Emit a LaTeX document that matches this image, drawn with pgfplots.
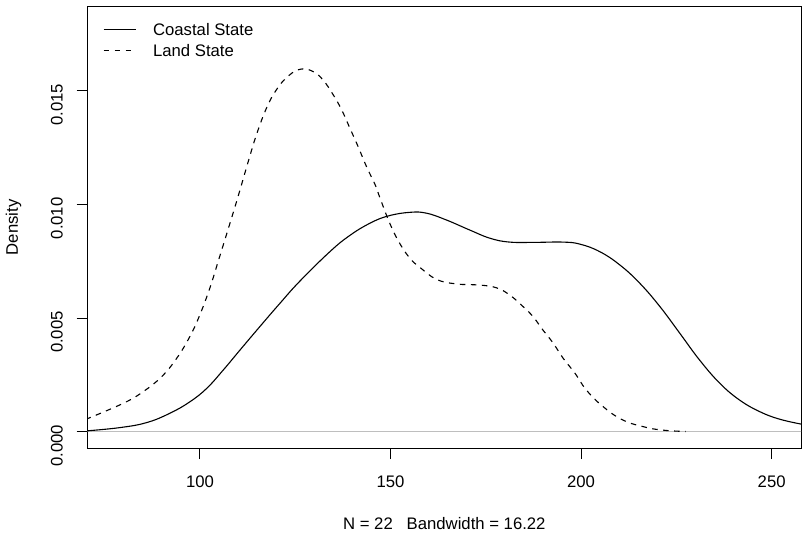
\documentclass[border=0pt]{standalone}
\usepackage{fontspec}
\setmainfont{Liberation Sans}
\usepackage{pgfplots}
\pgfplotsset{compat=1.18}
\definecolor{rgray}{RGB}{190,190,190}
\begin{document}
\fontsize{16.7bp}{20bp}\selectfont
\begin{tikzpicture}
\begin{axis}[
  scale only axis,
  width=713.3bp, height=441.3bp,
  xmin=70.55, xmax=257.7,
  ymin=-0.000717, ymax=0.018695,
  axis line style={line width=1bp},
  xtick={100,150,200,250},
  ytick={0,0.005,0.01,0.015},
  yticklabels={0.000,0.005,0.010,0.015},
  xticklabels={100,150,200,250},
  scaled y ticks=false,
  xtick pos=bottom, ytick pos=left,
  tick align=outside,
  major tick length=11bp,
  tick style={line width=1bp, black},
  xticklabel style={anchor=north, inner sep=0pt, text height=12bp, text depth=0bp, yshift=-16bp},
  yticklabel style={rotate=90, anchor=south, inner sep=0pt, text height=12bp, text depth=0bp, xshift=-14bp, yshift=14bp},
  every axis x label/.style={at={(axis description cs:0.5,0)}, yshift=-75.3bp, anchor=center},
  every axis y label/.style={at={(axis description cs:0,0.5)}, xshift=-74.2bp, rotate=90, anchor=center},
  xlabel={N = 22\hspace{13.9bp}Bandwidth = 16.22},
  ylabel={Density},
  legend cell align=left,
  legend image code/.code={\draw[#1] (-2bp,0bp) -- (30bp,0bp);},
  legend style={draw=none, fill=none, inner sep=0pt, outer sep=0pt,
    at={(axis description cs:0,1)}, anchor=north west, xshift=15.3bp, yshift=-17bp,
    nodes={inner sep=0pt, text height=12bp, text depth=0bp},
    row sep=8.6bp,
    /tikz/every odd column/.style={column sep=17bp}},
]
\addplot[rgray, line width=1bp, forget plot] coordinates {(60,0) (270,0)};
\addplot[black, line width=1.1bp, smooth, tension=0.7] coordinates {
(70.5,0.00004) (79.0,0.00018) (86.0,0.00040) (92.1,0.00081) (97.4,0.00132)
(101.8,0.00191) (106.1,0.00271) (110.5,0.00359) (115.7,0.00462) (121.0,0.00565)
(126.2,0.00662) (134.1,0.00792) (139.3,0.00863) (144.6,0.00917) (149.4,0.00949)
(155.1,0.00965) (159.5,0.00961) (164.7,0.00931) (170.8,0.00887) (176.1,0.00851)
(181.3,0.00834) (188.3,0.00833) (195.3,0.00834) (199.7,0.00825) (204.9,0.00792)
(210.2,0.00733) (215.4,0.00653) (220.7,0.00550) (225.9,0.00433) (231.1,0.00315)
(236.4,0.00213) (241.6,0.00139) (246.9,0.00088) (252.1,0.00055) (257.9,0.00033)
};
\addlegendentry{Coastal State}
\addplot[black, line width=1.1bp, smooth, tension=0.7, dash pattern=on 5.5bp off 5.5bp] coordinates {
(70.0,0.00054) (79.9,0.00125) (85.1,0.00176) (89.95,0.00242) (93.9,0.00323)
(97.4,0.00420) (100.0,0.00515) (102.6,0.00632) (104.8,0.00750) (108.3,0.00940)
(110.5,0.01063) (112.7,0.01190) (114.9,0.01310) (117.5,0.01425) (120.1,0.01505)
(123.2,0.01565) (126.5,0.01595) (129.7,0.01584) (132.3,0.01547) (135.0,0.01481)
(137.2,0.01415) (139.35,0.01335) (141.5,0.01254) (143.7,0.01166) (146.0,0.01085)
(147.2,0.01030) (149.8,0.00917) (152.4,0.00829) (155.1,0.00763) (157.7,0.00723)
(162.1,0.00670) (167.3,0.00650) (173.4,0.00645) (177.8,0.00633) (181.3,0.00601)
(184.8,0.00550) (187.4,0.00506) (190.0,0.00447) (192.7,0.00389) (195.3,0.00323)
(198.4,0.00257) (201.4,0.00183) (205.8,0.00110) (211.0,0.00051) (217.1,0.00019)
(222.0,0.00006) (227.4,0.00001)
};
\addlegendentry{Land State}
\end{axis}
\pgfresetboundingbox
\path (current axis.south west) ++(-87.7bp,-86bp);
\path (current axis.north east) ++(1bp,6.7bp);
\end{tikzpicture}
\end{document}
